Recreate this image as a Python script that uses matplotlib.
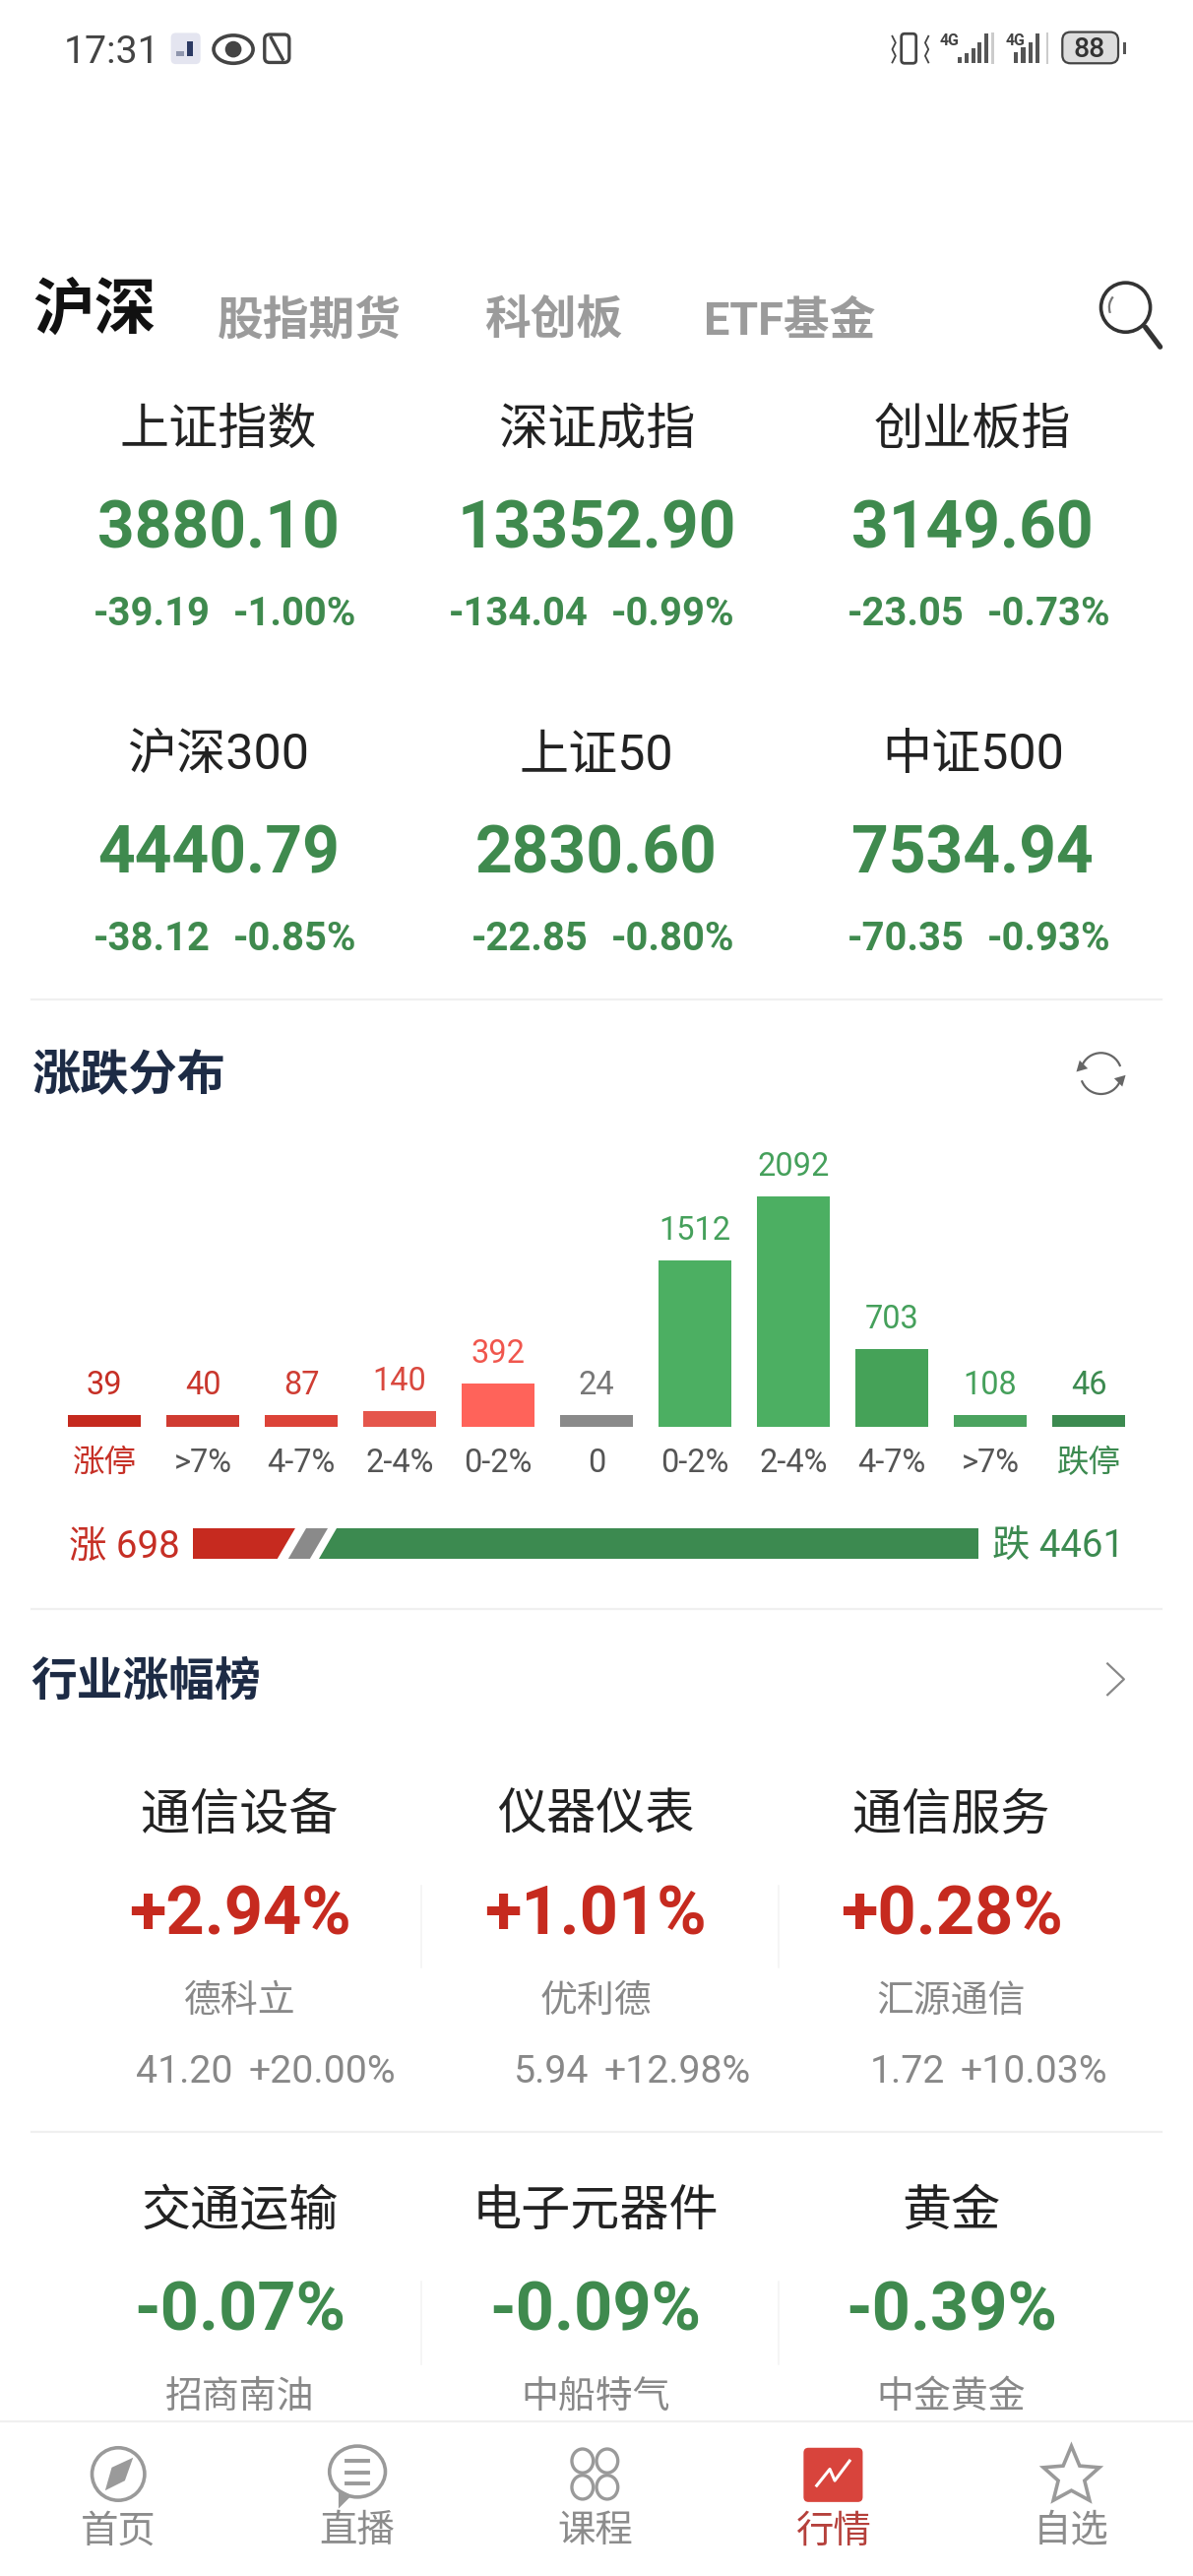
import matplotlib
matplotlib.use('Agg')
import matplotlib.pyplot as plt
from matplotlib.patches import Circle, Rectangle, FancyBboxPatch, Polygon, Arc, Ellipse

plt.rcParams['font.family'] = ['Roboto', 'Noto Sans CJK SC', 'DejaVu Sans']

# index cards
index_names = ['上证指数', '深证成指', '创业板指', '沪深300', '上证50', '中证500']
index_values = ['3880.10', '13352.90', '3149.60', '4440.79', '2830.60', '7534.94']
index_changes = ['-39.19', '-134.04', '-23.05', '-38.12', '-22.85', '-70.35']
index_pcts = ['-1.00%', '-0.99%', '-0.73%', '-0.85%', '-0.80%', '-0.93%']

# distribution bars
bar_labels = ['涨停', '>7%', '4-7%', '2-4%', '0-2%', '0', '0-2%', '2-4%', '4-7%', '>7%', '跌停']
bar_values = [39, 40, 87, 140, 392, 24, 1512, 2092, 703, 108, 46]
bar_colors = ['#c52a1e', '#d03b31', '#dc4338', '#e5564c', '#ff635a', '#8a8a8a',
              '#4caf62', '#4caf62', '#45a258', '#4ba35f', '#3c8a50']
value_colors = ['#c62f25', '#c9372d', '#cf3d33', '#d9483e', '#f0564d', '#777777',
                '#45a05b', '#45a05b', '#45a05b', '#45a05b', '#3c8a50']
tick_colors = ['#c62f25'] + ['#555555'] * 9 + ['#3c8a50']
min_bar = 108

rise_total = 698
flat_total = 24
fall_total = 4461

# industries
ind_names = ['通信设备', '仪器仪表', '通信服务', '交通运输', '电子元器件', '黄金']
ind_pcts = ['+2.94%', '+1.01%', '+0.28%', '-0.07%', '-0.09%', '-0.39%']
ind_stocks = ['德科立', '优利德', '汇源通信', '招商南油', '中船特气', '中金黄金']
stock_prices = ['41.20', '5.94', '1.72']
stock_pcts = ['+20.00%', '+12.98%', '+10.03%']

tabs = ['股指期货', '科创板', 'ETF基金']
nav_labels = ['首页', '直播', '课程', '行情', '自选']

RED = '#c62a1f'
GREEN = '#3f8a4e'
NAVY = '#1d2b45'
S = 1212 / 726.0
H = 2616 / S


def fs(px):
    return px * S * 72 / 100.0


fig = plt.figure(figsize=(12.12, 26.16), dpi=100, facecolor='white')
ax = fig.add_axes([0, 0, 1, 1])
ax.set_xlim(0, 726)
ax.set_ylim(H, 0)
ax.axis('off')


def txt(x, y, s, size, color='#222222', ha='center', weight='normal'):
    # va center sits a bit high for these fonts
    ax.text(x, y + 4.5, s, fontsize=fs(size), color=color, ha=ha, va='center', fontweight=weight)


def hline(y):
    ax.plot([19, 707], [y, y], color='#f0f0f0', lw=1.6)


# status bar
txt(39, 27.5, '17:31', 23.5, '#444444', ha='left')
ax.add_patch(FancyBboxPatch((105, 21), 16, 17, boxstyle='round,pad=1,rounding_size=3', fc='#e4e5f0', ec='none'))
ax.add_patch(Rectangle((114, 25), 3.5, 9, fc='#2c3a63', ec='none'))
ax.add_patch(Rectangle((107, 31), 5, 3, fc='#8f96ad', ec='none'))
ax.add_patch(Ellipse((142, 30), 24, 17, fc='none', ec='#444444', lw=2.6))
ax.add_patch(Circle((142, 30), 5, fc='#444444', ec='none'))
ax.add_patch(FancyBboxPatch((162, 22), 13, 15, boxstyle='round,pad=1,rounding_size=3', fc='none', ec='#444444', lw=2.4))
ax.plot([165, 172], [23, 36], color='#444444', lw=2.4)
ax.add_patch(FancyBboxPatch((549, 21), 8, 17, boxstyle='round,pad=0.5,rounding_size=2', fc='none', ec='#444444', lw=2))
ax.plot([543, 545, 543, 545, 543], [22, 26, 30, 34, 38], color='#444444', lw=1.3)
ax.plot([565, 563, 565, 563, 565], [22, 26, 30, 34, 38], color='#444444', lw=1.3)
txt(578, 20.5, '4G', 9.5, '#444444', weight='bold')
txt(618, 20.5, '4G', 9.5, '#444444', weight='bold')
for i, h in enumerate([4, 6, 9, 13, 18]):
    ax.add_patch(Rectangle((583 + i * 4, 38.5 - h), 2.4, h, fc='#555555', ec='none'))
for i, h in enumerate([7, 10, 13, 18]):
    ax.add_patch(Rectangle((617 + i * 4.4, 38.5 - h), 2.6, h, fc='#555555', ec='none'))
ax.add_patch(Rectangle((603.5, 20), 1.6, 19, fc='#cccccc', ec='none'))
ax.add_patch(Rectangle((636.5, 20), 1.6, 19, fc='#cccccc', ec='none'))
ax.add_patch(FancyBboxPatch((647, 20), 33, 18, boxstyle='round,pad=0.5,rounding_size=5', fc='#dddddd', ec='#444444', lw=1.6))
ax.add_patch(Rectangle((683.5, 26), 1.8, 7, fc='#555555', ec='none'))
txt(663, 25.5, '88', 17, '#333333', weight='medium')

# tabs
txt(20, 185, '沪深', 37.5, '#111111', ha='left', weight='bold')
for t, x in zip(tabs, [188, 336.5, 480.5]):
    txt(x, 191, t, 28, '#9b9b9b', weight='bold')
ax.add_patch(Circle((685, 187), 15, fc='none', ec='#333333', lw=2.6))
ax.plot([697, 706], [199, 211], color='#333333', lw=3.8, solid_capstyle='round')
ax.add_patch(Arc((685, 187), 20, 20, theta1=160, theta2=220, ec='#777777', lw=1.6))

# index cards
card_x = [133, 363, 592]
for i in range(6):
    cx = card_x[i % 3]
    y0 = (i // 3) * 198
    txt(cx, 257 + y0, index_names[i], 30, '#222222')
    txt(cx, 318 + y0, index_values[i], 39.5, GREEN, weight='bold')
    txt(cx - 5, 369 + y0, index_changes[i], 24, GREEN, ha='right', weight='bold')
    txt(cx + 84, 369 + y0, index_pcts[i], 24, GREEN, ha='right', weight='bold')

hline(608)
txt(19, 651, '涨跌分布', 29.5, NAVY, ha='left', weight='bold')
ax.add_patch(Arc((670, 653), 25, 25, theta1=200, theta2=340, ec='#666666', lw=1.6))
ax.add_patch(Arc((670, 653), 25, 25, theta1=20, theta2=160, ec='#666666', lw=1.6))
ax.add_patch(Polygon([(655, 652), (662, 650), (657, 645)], fc='#666666', ec='none'))
ax.add_patch(Polygon([(685, 654), (678, 656), (683, 661)], fc='#666666', ec='none'))

# distribution bars, own axes with value scale
bx = fig.add_axes([56 / 1212, 1 - 1449 / 2616, 1100 / 1212, 234 / 2616])
positions = list(range(len(bar_values)))
heights = [max(v, min_bar) for v in bar_values]
rects = bx.bar(positions, heights, width=0.74, color=bar_colors)
bx.set_xlim(-0.5, 10.5)
bx.set_ylim(0, 2092)
for s in bx.spines.values():
    s.set_visible(False)
bx.patch.set_alpha(0)
bx.set_yticks([])
bx.set_xticks(positions)
bx.set_xticklabels(bar_labels, fontsize=fs(19.5))
bx.tick_params(axis='x', length=0, pad=15)
for lab, c in zip(bx.get_xticklabels(), tick_colors):
    lab.set_color(c)
for p, h, v, c in zip(positions, heights, bar_values, value_colors):
    bx.annotate(str(v), (p, h), xytext=(0, 10), textcoords='offset points', ha='center', va='bottom',
                fontsize=fs(19.5), color=c, annotation_clip=False)

# rise / fall bar
rx = fig.add_axes([196 / 1212, 1 - 1583 / 2616, 798 / 1212, 31 / 2616])
total = rise_total + flat_total + fall_total
rx.set_xlim(0, total)
rx.set_ylim(0, 1)
rx.axis('off')
slant = 118
rx.fill([0, rise_total - 23, rise_total - 23 - slant, 0], [1, 1, 0, 0], color='#c62a1f', lw=0)
g0 = rise_total + 25
g1 = g0 + 167
rx.fill([g0 + flat_total, g1, g1 - slant, g0 + flat_total - slant], [1, 1, 0, 0], color='#8a8a8a', lw=0)
f0 = g1 + 58
rx.fill([f0, total, total, f0 - slant], [1, 1, 0, 0], color='#3c8a50', lw=0)
txt(42, 937, '涨 698', 23, '#c62f25', ha='left')
txt(604, 937, '跌 4461', 23, '#3c8a50', ha='left')

hline(979)
txt(19, 1019, '行业涨幅榜', 28, NAVY, ha='left', weight='bold')
ax.plot([674, 684, 674], [1012, 1021.5, 1031], color='#888888', lw=1.6)

# industry cards
ind_x = [146, 362.5, 579]
price_x = [112, 335.5, 552]
for i in range(6):
    cx = ind_x[i % 3]
    y0 = (i // 3) * 241
    c = RED if ind_pcts[i].startswith('+') else GREEN
    txt(cx, 1100 + y0, ind_names[i], 30, '#222222')
    txt(cx, 1161 + y0, ind_pcts[i], 41, c, weight='bold')
    txt(cx, 1213 + y0, ind_stocks[i], 22.7, '#888888')
    if i < 3:
        txt(price_x[i], 1256, stock_prices[i], 23.5, '#888888')
        txt(cx + 50, 1256, stock_pcts[i], 23.5, '#888888')
for x in [256.5, 474]:
    for y0 in [0, 241]:
        ax.plot([x, x], [1147 + y0, 1197 + y0], color='#f4f4f4', lw=1.2)
hline(1297)

# bottom nav
ax.add_patch(Rectangle((0, 1473), 726, H - 1473, fc='white', ec='none', zorder=3))
ax.plot([0, 726], [1473, 1473], color='#f0f0f0', lw=1.6, zorder=4)
GR = '#9a9a9a'
nav_x = [72, 217, 362, 507, 652]
for x, t in zip(nav_x, nav_labels):
    ax.text(x, 1540, t, fontsize=fs(23), color='#b5403b' if t == '行情' else '#8c8c8c',
            ha='center', va='center', zorder=5)
ax.add_patch(Circle((72, 1505), 16, fc='none', ec=GR, lw=2.6, zorder=5))
ax.add_patch(Polygon([(81, 1495), (76, 1509), (64, 1515), (68, 1501)], fc=GR, ec='none', zorder=5))
ax.add_patch(Ellipse((217.5, 1503.5), 34, 31, fc='none', ec=GR, lw=2.6, zorder=5))
ax.add_patch(Polygon([(206, 1514), (214, 1518), (206, 1526)], fc=GR, ec='none', zorder=5))
for y in [1497, 1504, 1511]:
    ax.plot([211, 224], [y, y], color=GR, lw=2.8, zorder=5)
for dx, dy in [(-7.5, -8), (7.5, -8), (-7.5, 8), (7.5, 8)]:
    ax.add_patch(Ellipse((362 + dx, 1505 + dy), 13, 14.5, fc='none', ec=GR, lw=2.4, zorder=5))
ax.add_patch(FancyBboxPatch((491, 1491), 32, 29, boxstyle='round,pad=2,rounding_size=3', fc='#d8443c', ec='none', zorder=5))
ax.plot([497, 505, 508, 517], [1512, 1502, 1509, 1497], color='white', lw=2.2, zorder=6)
star_x = [652, 657, 669, 660, 663, 652, 641, 644, 635, 647]
star_y = [1488, 1500, 1501, 1509, 1521, 1515, 1521, 1509, 1501, 1500]
ax.add_patch(Polygon(list(zip(star_x, star_y)), fc='none', ec=GR, lw=2.6, zorder=5))

fig.savefig('out.png', dpi=100)
